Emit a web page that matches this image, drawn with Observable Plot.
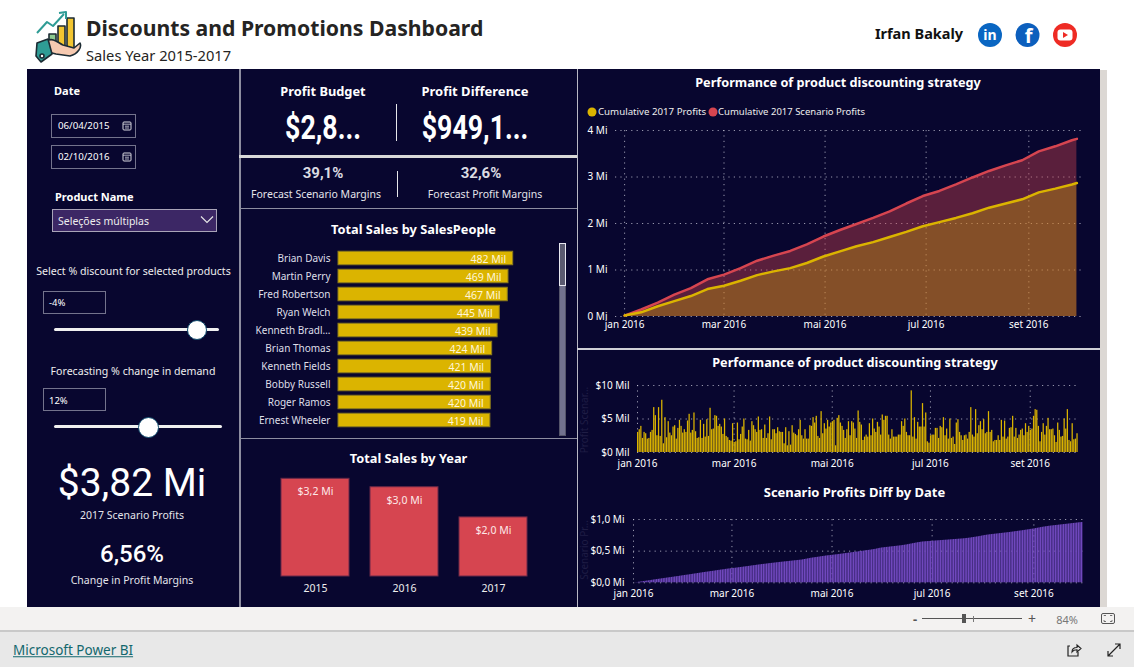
<!DOCTYPE html>
<html><head><meta charset="utf-8">
<script src="https://cdn.jsdelivr.net/npm/d3@7"></script>
<script src="https://cdn.jsdelivr.net/npm/@observablehq/plot@0.6"></script>
<style>
html,body{margin:0;padding:0;background:#fff;overflow:hidden}
#page{position:relative;width:1134px;height:667px;overflow:hidden;font-family:"Noto Sans",sans-serif;color:#fff}
.abs{position:absolute}
.t{position:absolute;white-space:nowrap;line-height:1}
.c{transform:translate(-50%,-50%)}
.l{transform:translateY(-50%)}
.box{position:absolute;box-sizing:border-box;border:1.5px solid #73738c}
svg{display:block}
.plot{position:absolute}
</style></head><body><div id="page"></div>
<script>
// ---------- data ----------
const salesPeople = ["Brian Davis","Martin Perry","Fred Robertson","Ryan Welch","Kenneth Bradl…","Brian Thomas","Kenneth Fields","Bobby Russell","Roger Ramos","Ernest Wheeler"];
const salesPeopleMil = [482,469,467,445,439,424,421,420,420,419];
const years = ["2015","2016","2017"];
const yearSalesMi = [3.24,2.96,1.96];
const monthTicks = [0,2,4,6,8];
const monthLabels = ["jan 2016","mar 2016","mai 2016","jul 2016","set 2016"];
const cumDays = [0,10,20,30,40,50,60,70,80,90,100,110,120,130,140,150,160,170,180,190,200,210,220,230,240,250,260,270,273];
const cumScenarioMi = [.02,.15,.30,.47,.61,.80,.90,1.04,1.20,1.31,1.41,1.55,1.72,1.86,1.99,2.12,2.26,2.43,2.59,2.70,2.84,2.99,3.13,3.25,3.36,3.55,3.66,3.79,3.82];
const cumProfitMi = [.02,.09,.22,.33,.44,.59,.66,.77,.89,.97,1.04,1.15,1.29,1.40,1.51,1.60,1.71,1.82,1.94,2.03,2.12,2.22,2.34,2.43,2.52,2.67,2.75,2.84,2.87];
const dailyProfitScenarioMil = [
3.0,3.4,3.9,2.1,3.0,2.8,2.0,2.1,3.0,3.3,6.7,5.5,2.5,6.7,2.4,7.8,1.3,5.2,2.2,4.6,
2.9,2.5,3.8,4.0,2.0,3.6,4.8,3.9,2.9,3.4,3.0,4.7,5.7,2.9,3.3,5.9,3.1,2.1,2.2,4.8,
2.1,4.2,2.3,4.9,2.4,6.6,3.4,3.5,5.5,5.4,3.9,4.2,3.8,2.7,5.0,2.4,2.2,1.8,1.7,4.3,
1.5,1.6,4.4,1.9,2.7,3.8,5.0,2.0,
1.9,3.3,1.7,4.6,4.0,3.4,3.0,5.3,3.3,3.4,2.1,4.1,2.1,2.8,5.3,1.9,3.4,3.4,2.8,3.7,
3.1,3.0,3.0,1.3,3.7,1.0,3.1,1.1,4.0,2.9,2.7,2.5,3.4,4.8,2.5,2.0,3.4,2.0,2.0,4.0,
3.9,5.2,4.4,5.4,2.4,2.1,6.1,2.8,4.3,3.5,4.8,3.8,4.4,4.6,4.8,1.0,5.1,5.5,4.4,3.9,
3.3,2.1,3.4,4.6,2.5,4.6,4.4,3.5,2.1,
6.2,4.5,4.1,1.8,2.3,2.6,2.3,4.3,2.5,5.0,3.5,3.0,4.5,3.8,2.6,5.6,4.8,5.4,5.4,2.6,
2.0,3.4,2.3,2.3,2.3,2.6,2.6,4.6,3.9,5.0,3.0,2.5,2.5,9.2,2.3,5.2,2.0,4.5,3.8,3.8,
7.3,3.8,5.9,1.6,1.4,2.5,2.6,2.6,3.6,3.6,2.1,3.9,3.7,5.2,2.5,3.5,2.0,5.0,2.1,2.3,
1.2,4.4,4.9,3.0,2.5,1.8,2.5,2.6,2.0,3.0,
6.7,2.6,2.3,6.4,2.8,4.0,4.6,3.4,4.9,2.8,3.0,6.1,3.0,3.3,1.6,1.8,1.8,2.5,1.8,4.8,
2.3,4.7,2.0,2.3,3.6,3.7,5.4,2.3,3.6,2.1,2.6,3.3,3.5,2.5,4.3,3.0,3.9,3.3,3.5,5.4,
6.4,6.3,3.9,1.6,3.0,4.3,2.6,3.9,5.1,3.4,3.4,3.5,2.5,1.5,4.4,3.3,2.3,2.4,5.0,3.5,
6.4,1.8,1.6,4.3,1.9,2.0,2.8];
const scenarioDiffMi = [
.000,.002,.005,.009,.012,.016,.020,.024,.028,.031,.035,.039,.044,.048,.051,.055,.059,.063,.066,.070,
.074,.078,.081,.085,.089,.093,.096,.100,.104,.108,.112,.116,.120,.123,.127,.131,.135,.139,.143,.147,
.151,.155,.159,.163,.167,.170,.174,.178,.181,.185,.189,.193,.197,.201,.204,.208,.212,.216,.219,.222,
.225,.228,.231,.235,.238,.242,.245,.249,.252,.256,.259,.263,.267,.270,.274,.278,.281,.285,.288,.291,
.294,.297,.301,.304,.307,.310,.313,.316,.319,.322,.325,.328,.331,.333,.336,.339,.342,.345,.348,.350,
.353,.356,.359,.363,.368,.373,.378,.383,.388,.392,.396,.399,.403,.407,.411,.415,.419,.423,.426,.429,
.432,.435,.438,.441,.444,.448,.451,.455,.458,.462,.465,.469,.472,.476,.479,.483,.486,.490,.494,.497,
.501,.505,.508,.512,.516,.520,.524,.528,.534,.540,.545,.550,.553,.556,.559,.562,.565,.568,.571,.574,
.577,.580,.583,.586,.590,.594,.598,.603,.608,.613,.618,.623,.628,.633,.637,.641,.645,.647,.649,.651,
.653,.655,.657,.659,.661,.663,.665,.667,.669,.671,.673,.675,.677,.679,.681,.683,.685,.687,.689,.691,
.693,.695,.698,.701,.704,.708,.712,.716,.720,.724,.728,.733,.738,.743,.748,.752,.756,.759,.762,.765,
.768,.771,.774,.777,.780,.783,.786,.789,.792,.795,.799,.802,.806,.810,.813,.817,.820,.824,.828,.832,
.836,.840,.844,.848,.852,.857,.862,.867,.872,.877,.881,.885,.889,.893,.896,.899,.902,.905,.908,.911,
.914,.917,.920,.923,.926,.929,.932,.935,.938,.941,.944,.947,.950,.952];

// ---------- helpers ----------
const NAVY="#08062f", GOLD="#dbb400", RED="#d64550", PURPLE="#7048bd";
const FONT='"Noto Sans",sans-serif';
const page=document.getElementById("page");
const day0=Date.UTC(2016,0,1);
const dayDate=i=>new Date(day0+i*864e5);
const tickDates=monthTicks.map(m=>new Date(Date.UTC(2016,m,1)));
const tickLabel=d=>monthLabels[monthTicks.indexOf(d.getUTCMonth())];
const comma=(v,f)=>d3.format(f)(v).replace(".",",");
function rect(x,y,w,h,bg,extra=""){const e=document.createElement("div");e.className="abs";e.style.cssText=`left:${x}px;top:${y}px;width:${w}px;height:${h}px;background:${bg};${extra}`;page.appendChild(e);return e;}
function label(x,y,s,size,o={}){const e=document.createElement("div");e.className="t "+(o.left?"l":"c");e.textContent=s;
 e.style.cssText=`left:${x}px;top:${y}px;font-size:${size}px;font-weight:${o.w||400};color:${o.color||"#fff"};font-family:${o.font||FONT};${o.css||""}`;page.appendChild(e);return e;}
function box(x,y,w,h,extra=""){const e=document.createElement("div");e.className="box";e.style.cssText=`left:${x}px;top:${y}px;width:${w}px;height:${h}px;${extra}`;page.appendChild(e);return e;}
function art(x,y,w,h,inner){const e=document.createElement("div");e.className="abs";e.style.cssText=`left:${x}px;top:${y}px;width:${w}px;height:${h}px`;e.innerHTML=`<svg width="${w}" height="${h}" viewBox="0 0 ${w} ${h}">${inner}</svg>`;page.appendChild(e);}
function place(x,y,plot){plot.classList.add("plot");plot.style.left=x+"px";plot.style.top=y+"px";page.appendChild(plot);}
const plotStyle=(size=10)=>({background:"transparent",color:"#fff",fontFamily:FONT,fontSize:size+"px",overflow:"visible"});
const grid={stroke:"#c8c8d8",strokeOpacity:.75,strokeDasharray:"1.2,4.2"};

// ---------- page frame ----------
rect(27,69,1073,538,NAVY);
rect(1100,70,7,537,"#dcd8d4");
rect(0,607,1134,23,"#f3f2f1");
rect(0,630,1134,37,"#e8e8e8","border-top:2px solid #c9c9c9;box-sizing:border-box");
rect(239,69,1.5,538,"#8d8da0");
rect(576.5,69,1.5,538,"#b8b8c4");
rect(239,155,338,3,"#d9d9d9");
rect(240,208,337,1,"#8d8da0");
rect(240,437.5,337,1.5,"#8d8da0");
rect(577,347.5,523,2,"#cfcfd6");

// ---------- header ----------
art(34,10,48,54,`
 <g stroke="#1c2b33" stroke-width="1.6" stroke-linejoin="round">
 <rect x="15" y="24" width="7" height="14" fill="#8cc98f"/><rect x="24" y="16" width="7" height="22" fill="#f2c531"/><rect x="33" y="8" width="7" height="30" fill="#f2c531"/>
 <path d="M3 23 L13 12 L19 16 L30 4 M25 3 L32 2 L32 9" fill="none" stroke="#2f9c95" stroke-width="2"/>
 <path d="M12 31 C20 27 24 33 29 35 L40 38 L46 33 C48 37 44 44 36 46 L22 44 L14 42 Z" fill="#f6c9b0"/>
 <path d="M3 33 L14 29 L18 44 L7 52 L2 46 Z" fill="#2f9c95"/><circle cx="8" cy="46" r="2" fill="#fff"/>
 </g>`);
label(86,28,"Discounts and Promotions Dashboard",21.2,{left:1,w:700,color:"#252423"});
label(86,55,"Sales Year 2015-2017",14.7,{left:1,color:"#252423"});
label(919,33,"Irfan Bakaly",14.5,{w:700,color:"#111"});
art(976,21,104,30,`
 <circle cx="14" cy="14" r="12" fill="#0a66c2"/><text x="14" y="19" text-anchor="middle" font-family="Noto Sans" font-weight="700" font-size="14" fill="#fff">in</text>
 <circle cx="51.5" cy="14" r="12" fill="#0c5fbd"/><text x="52.5" y="22" text-anchor="middle" font-family="Noto Sans" font-weight="700" font-size="20" fill="#fff">f</text>
 <circle cx="89" cy="14" r="12" fill="#ee2b24"/><rect x="81.5" y="8.5" width="15" height="11" rx="3" fill="#fff"/><path d="M87 11 L92 14 L87 17 Z" fill="#ee2b24"/>`);

// ---------- left filter column ----------
label(54,89.5,"Date",11,{left:1,w:700});
box(51,114,85,24); box(51,144.5,85,24);
label(58,126,"06/04/2015",9.7,{left:1}); label(58,157,"02/10/2016",9.7,{left:1});
[126,156.5].forEach(y=>art(122,y-5,10,10,`<rect x="1" y="1" width="8" height="8" rx="1" fill="none" stroke="#d8d8e0"/><path d="M1 3.2H9M3 5.2H7M3 7H7" stroke="#d8d8e0" stroke-width=".8"/>`));
label(55,195.5,"Product Name",11,{left:1,w:700});
box(52,208.5,165,23.5,"background:#3c2765;border-color:#a9a4b8");
label(58,221,"Seleções múltiplas",10.5,{left:1,color:"#eee"});
art(199,214,16,12,`<path d="M2 2.5 L8 8.5 L14 2.5" fill="none" stroke="#e8e8e8" stroke-width="1.1"/>`);
label(133.5,271,"Select % discount for selected products",10.6,{color:"#eee"});
box(43,291,62.5,22.5); label(49,303,"-4%",9.5,{left:1});
rect(54,328,165,3,"#f0f0f0","border-radius:2px");
rect(186.5,319.5,20.5,20.5,"#fff","border-radius:50%;border:1.5px solid #0f4c6e;box-sizing:border-box");
label(133,371,"Forecasting % change in demand",10.6,{color:"#eee"});
box(43,388,62.5,22.5); label(49,400.5,"12%",9.5,{left:1});
rect(54,425,168,3,"#f0f0f0","border-radius:2px");
rect(137.5,416.5,21,21,"#fff","border-radius:50%;border:1.5px solid #0f4c6e;box-sizing:border-box");
label(132,483,"$3,82 Mi",39,{font:"Roboto",w:400});
label(132,515,"2017 Scenario Profits",10.5,{color:"#e4e4ea"});
label(132,553.5,"6,56%",24,{font:"Roboto",w:500});
label(132,580,"Change in Profit Margins",10.5,{color:"#e4e4ea"});

// ---------- KPI ----------
label(323,91,"Profit Budget",12.8,{w:700});
label(475,91,"Profit Difference",13,{w:700});
const squeeze="transform:translate(-50%,-50%) scaleX(.81)";
label(323,127,"$2,8...",33,{font:"Roboto",w:700,css:squeeze});
label(475,127,"$949,1...",33,{font:"Roboto",w:700,css:squeeze});
rect(395.5,104,1.5,37,"#e6e6ea");
label(323,173,"39,1%",15,{font:"Roboto",w:700,color:"#dcdce2"});
label(481,173,"32,6%",15,{font:"Roboto",w:700,color:"#dcdce2"});
label(316,194,"Forecast Scenario Margins",10.5,{color:"#e4e4ea"});
label(485,194,"Forecast Profit Margins",10.5,{color:"#e4e4ea"});
rect(396.5,171,1.5,26,"#e6e6ea");

// ---------- titles ----------
label(413.5,229,"Total Sales by SalesPeople",12.8,{w:700});
label(408.5,458,"Total Sales by Year",12.8,{w:700});
label(838,82,"Performance of product discounting strategy",12.7,{w:700});
label(855,362,"Performance of product discounting strategy",12.7,{w:700});
label(854.5,492,"Scenario Profits Diff by Date",13,{w:700});
art(586,105,14,14,`<circle cx="6" cy="7" r="4.5" fill="${GOLD}"/>`);
label(598,112,"Cumulative 2017 Profits",9.7,{left:1,color:"#eee"});
art(707,105,14,14,`<circle cx="6" cy="7" r="4.5" fill="${RED}"/>`);
label(718,112,"Cumulative 2017 Scenario Profits",9.5,{left:1,color:"#eee"});
label(584,420,"Profit Scenar...",10,{color:"#1f1d45",css:"transform:translate(-50%,-50%) rotate(-90deg)"});
label(584,550,"Scenario Pr...",10,{color:"#1f1d45",css:"transform:translate(-50%,-50%) rotate(-90deg)"});

// ---------- sales by person ----------
const people=salesPeople.map((name,i)=>({name,v:salesPeopleMil[i]}));
place(240,243,Plot.plot({width:320,height:188.25,marginLeft:98,marginRight:47.3,marginTop:3.75,marginBottom:0,style:plotStyle(10),
 x:{domain:[0,482],axis:null},
 y:{domain:salesPeople,padding:.25,round:false,label:null},
 marks:[
  Plot.axisY({tickSize:0,tickPadding:8,label:null,fill:"#dfdfe8"}),
  Plot.barX(people,{x:"v",y:"name",fill:GOLD,stroke:"#8a7a1c",strokeWidth:1}),
  Plot.text(people,{x:"v",y:"name",text:d=>d.v+" Mil",textAnchor:"end",dx:-7,dy:1,fill:"#fff6d8",fontSize:10.5})
 ]}));
rect(559,243,7,193,"#72728f","border:1px solid #55556a;box-sizing:border-box");
rect(559,243,7,43,"#5a5a70","border:1px solid #e8e8f0;box-sizing:border-box");

// ---------- sales by year ----------
const yearRows=years.map((y,i)=>({y,v:yearSalesMi[i]}));
place(240,470,Plot.plot({width:337,height:130,marginLeft:20,marginRight:29,marginTop:8.3,marginBottom:24,style:plotStyle(10.5),
 x:{domain:years,padding:.236,round:false,label:null},
 y:{domain:[0,3.24],axis:null},
 marks:[
  Plot.axisX({tickSize:0,tickPadding:8,label:null,fill:"#eee"}),
  Plot.barY(yearRows,{x:"y",y:"v",fill:RED,stroke:"#6a2848",strokeWidth:1}),
  Plot.text(yearRows,{x:"y",y:"v",text:d=>"$"+comma(d.v,".1f")+" Mi",dy:13,fill:"#fde8e8",fontSize:10.5})
 ]}));

// ---------- cumulative areas ----------
const cum=cumDays.map((d,i)=>({date:dayDate(d),scen:cumScenarioMi[i]*1e6,prof:cumProfitMi[i]*1e6}));
place(578,120,Plot.plot({width:522,height:215,marginLeft:37,marginRight:17,marginTop:10,marginBottom:19,style:plotStyle(10),
 x:{type:"utc",domain:[new Date(Date.UTC(2015,11,26,12)),new Date(Date.UTC(2016,9,4))],label:null},
 y:{domain:[0,4e6],label:null},
 marks:[
  Plot.gridY({ticks:[0,1e6,2e6,3e6,4e6],...grid}),
  Plot.gridX({ticks:tickDates,...grid}),
  Plot.areaY(cum,{x:"date",y:"scen",fill:RED,fillOpacity:.4}),
  Plot.areaY(cum,{x:"date",y:"prof",fill:GOLD,fillOpacity:.33}),
  Plot.lineY(cum,{x:"date",y:"scen",stroke:RED,strokeWidth:2.5}),
  Plot.lineY(cum,{x:"date",y:"prof",stroke:GOLD,strokeWidth:2.5}),
  Plot.axisX({ticks:tickDates,tickFormat:tickLabel,tickSize:0,tickPadding:4,label:null}),
  Plot.axisY({ticks:[0,1e6,2e6,3e6,4e6],tickFormat:d=>(d/1e6)+" Mi",tickSize:0,tickPadding:8,label:null})
 ]}));

// ---------- daily bars ----------
const daily=dailyProfitScenarioMil.map((v,i)=>({date:dayDate(i),v}));
place(578,375,Plot.plot({width:522,height:100,marginLeft:59,marginRight:22,marginTop:10,marginBottom:23,style:plotStyle(10),
 x:{type:"utc",domain:[dayDate(0),dayDate(274)],label:null},
 y:{domain:[0,10],label:null},
 marks:[
  Plot.gridY({ticks:[0,5,10],...grid}),
  Plot.gridX({ticks:tickDates,...grid}),
  Plot.rectY(daily,{x:"date",y:"v",interval:"day",fill:GOLD,insetRight:.35}),
  Plot.axisX({ticks:tickDates,tickFormat:tickLabel,tickSize:0,tickPadding:7,label:null}),
  Plot.axisY({ticks:[0,5,10],tickFormat:d=>"$"+d+" Mil",tickSize:0,tickPadding:8,label:null})
 ]}));

// ---------- diff bars ----------
const diff=scenarioDiffMi.map((v,i)=>({date:dayDate(i),v}));
place(578,510,Plot.plot({width:522,height:96,marginLeft:55,marginRight:17.4,marginTop:9,marginBottom:23.7,style:plotStyle(10),
 x:{type:"utc",domain:[dayDate(0),dayDate(274)],label:null},
 y:{domain:[0,1],label:null},
 marks:[
  Plot.gridY({ticks:[0,.5,1],...grid}),
  Plot.gridX({ticks:tickDates,...grid}),
  Plot.rectY(diff,{x:"date",y:"v",interval:"day",fill:PURPLE,insetRight:.25}),
  Plot.axisX({ticks:tickDates,tickFormat:tickLabel,tickSize:0,tickPadding:7,label:null}),
  Plot.axisY({ticks:[0,.5,1],tickFormat:d=>"$"+comma(d,".1f")+" Mi",tickSize:0,tickPadding:9,label:null})
 ]}));

// ---------- footer ----------
label(915,618.5,"-",13,{color:"#555",w:700});
rect(922,618,100,1,"#555");
rect(962,614,4,9,"#555"); rect(972.5,615.5,1,6,"#777");
label(1032,618.5,"+",14,{color:"#555"});
label(1067,619,"84%",11,{color:"#777"});
art(1100,612,16,14,`<rect x="1.5" y="1.5" width="13" height="10" rx="1.5" fill="none" stroke="#555"/><path d="M4 4V3.5H6M10 3.5H12V4M12 8V9.5H10M6 9.5H4V8" fill="none" stroke="#555" stroke-width=".8"/>`);
label(13,651,"Microsoft Power BI",13.5,{left:1,color:"#12676d",css:"text-decoration:underline"});
art(1066,642,16,16,`<path d="M4 4H2V14H12V10" fill="none" stroke="#222" stroke-width="1.2"/><path d="M6 10C6 7 8 5.5 11 5.5V3L15 6.5L11 10V7.8C9 7.8 7 8.5 6 10Z" fill="none" stroke="#222" stroke-width="1.1"/>`);
art(1106,642,16,16,`<path d="M2 14L14 2M9 2H14V7M2 9V14H7" fill="none" stroke="#222" stroke-width="1.2"/>`);
</script></body></html>
